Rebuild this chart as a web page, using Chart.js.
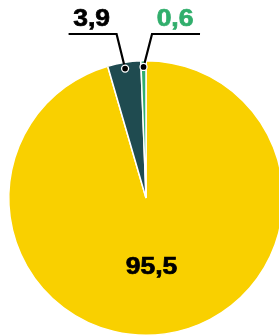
<!DOCTYPE html>
<html>
<head>
<meta charset="utf-8">
<script src="https://cdn.jsdelivr.net/npm/chart.js@4/dist/chart.umd.min.js"></script>
<style>
  html, body { margin: 0; padding: 0; background: #fff; overflow: hidden; }
  #wrap { width: 290px; height: 340px; }
</style>
</head>
<body>
<div id="wrap"><canvas id="pie" width="290" height="340"></canvas></div>
<script>
const categories = ['Rest', 'Mid', 'Small'];
const values = [95.5, 3.9, 0.6];
const labels = ['95,5', '3,9', '0,6'];
const colors = ['#f9d000', '#1f4b50', '#31ae6c'];
const labelColors = ['#000000', '#000000', '#31ae6c'];

const labelFont = 'bold 23px "Liberation Sans", Arial, sans-serif';
const stretch = 1.15;

function wideText(ctx, text, x, y) {
  ctx.save();
  ctx.translate(x, y);
  ctx.scale(stretch, 1);
  ctx.strokeStyle = ctx.fillStyle;
  ctx.lineWidth = 0.7;
  ctx.fillText(text, 0, 0);
  ctx.strokeText(text, 0, 0);
  ctx.restore();
}

// inside label for the big slice, leader lines for the thin ones
const pieLabels = {
  id: 'pieLabels',
  afterDatasetsDraw(chart) {
    const ctx = chart.ctx;
    const meta = chart.getDatasetMeta(0);
    ctx.save();
    ctx.font = labelFont;
    ctx.textAlign = 'center';
    ctx.textBaseline = 'alphabetic';
    meta.data.forEach((arc, i) => {
      const p = arc.getProps(['x', 'y', 'startAngle', 'endAngle', 'outerRadius']);
      const mid = (p.startAngle + p.endAngle) / 2;
      if (i === 0) {
        const r = p.outerRadius * 0.49;
        ctx.fillStyle = labelColors[i];
        wideText(ctx, labels[i], p.x + Math.cos(mid) * r - 4, p.y + Math.sin(mid) * r + 9);
        return;
      }
      const r = p.outerRadius * 0.955;
      const dx = p.x + Math.cos(mid) * r;
      const dy = p.y + Math.sin(mid) * r;
      const side = i === 1 ? -1 : 1;
      const ex = dx + side * 8.5;
      const ey = 34;
      const hx = ex + side * 48;
      ctx.strokeStyle = '#000';
      ctx.lineWidth = 2.2;
      ctx.beginPath();
      ctx.moveTo(dx, dy);
      ctx.lineTo(ex, ey);
      ctx.lineTo(hx, ey);
      ctx.stroke();
      ctx.beginPath();
      ctx.arc(dx, dy, 3.5, 0, Math.PI * 2);
      ctx.fillStyle = '#000';
      ctx.fill();
      ctx.strokeStyle = '#fff';
      ctx.lineWidth = 1.3;
      ctx.stroke();
      ctx.fillStyle = labelColors[i];
      wideText(ctx, labels[i], (ex + hx) / 2 - 1, 26);
    });
    ctx.restore();
  }
};

new Chart(document.getElementById('pie'), {
  type: 'pie',
  data: {
    labels: categories,
    datasets: [{
      data: values,
      backgroundColor: colors,
      borderColor: '#ffffff',
      borderWidth: 1.5
    }]
  },
  options: {
    responsive: false,
    animation: false,
    layout: { padding: { left: 8, top: 60, right: 6, bottom: 4 } },
    plugins: {
      legend: { display: false },
      tooltip: { enabled: false }
    }
  },
  plugins: [pieLabels]
});
</script>
</body>
</html>
